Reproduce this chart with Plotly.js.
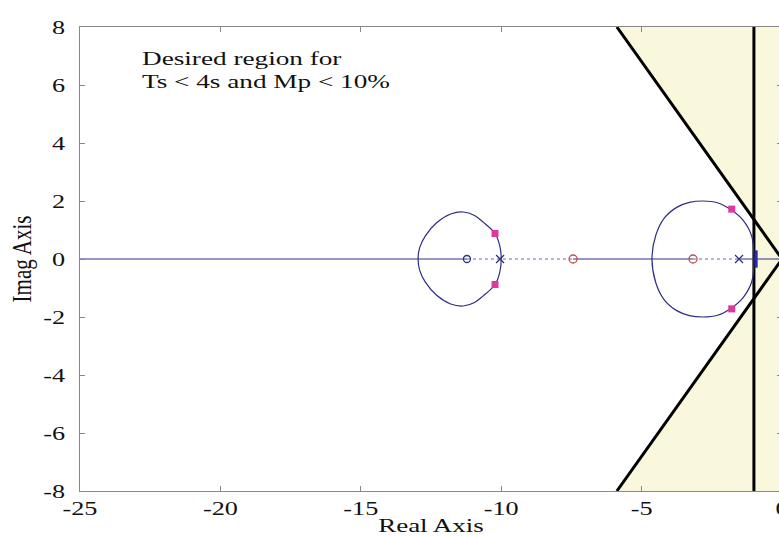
<!DOCTYPE html>
<html>
<head>
<meta charset="utf-8">
<script src="https://cdn.plot.ly/plotly-3.0.1.min.js"></script>
<style>
  html, body { margin: 0; padding: 0; overflow: hidden; background: #fff; }
  #chart { width: 800px; height: 536px; }
</style>
</head>
<body>
<div id="chart"></div>
<script>
// ---- data ----
const openLoopZerosBlue = [-11.22];
const openLoopZerosRed = [-7.44, -3.17];
const openLoopPoles = [-10.04, -1.53];

const loop1Re = [-10.0, -10.05, -10.22, -10.65, -10.95, -11.35, -11.8, -12.3, -12.7, -12.9, -12.96, -12.9, -12.7, -12.3, -11.8, -11.35, -10.95, -10.65, -10.22, -10.05, -10.0];
const loop1Im = [0, 0.45, 0.88, 1.28, 1.50, 1.62, 1.55, 1.25, 0.80, 0.40, 0, -0.40, -0.80, -1.25, -1.55, -1.62, -1.50, -1.28, -0.88, -0.45, 0];

const loop2Re = [-1.0, -1.07, -1.39, -1.85, -2.3, -2.81, -3.3, -3.75, -4.2, -4.5, -4.63, -4.5, -4.2, -3.75, -3.3, -2.81, -2.3, -1.85, -1.39, -1.07, -1.0];
const loop2Im = [0, 0.76, 1.34, 1.72, 1.94, 2.0, 1.95, 1.78, 1.40, 0.80, 0, -0.80, -1.40, -1.78, -1.95, -2.0, -1.94, -1.72, -1.34, -0.76, 0];

const closedLoopRe = [-10.22, -10.22, -1.79, -1.79];
const closedLoopIm = [0.88, -0.88, 1.72, -1.72];

const solidAxisSegments = [[-25, -11.22], [-7.44, -3.17], [-1.53, 0]];
const dottedAxisSegments = [[-11.22, -7.44], [-3.17, -1.53]];
const nearAxisBranchRe = [-0.92, -0.92];
const nearAxisBranchIm = [-0.3, 0.3];

const tsLimitReal = -1;              // Ts < 4s boundary
const coneEdgeRe = -5.88;            // damping boundary reaches Im = ±8 here
const imagLimit = 8;

const xTickVals = [-25, -20, -15, -10, -5, 0];
const xTickText = ['-25', '-20', '-15', '-10', '-5', '0'];
const yTickVals = [-8, -6, -4, -2, 0, 2, 4, 6, 8];
const yTickText = ['-8', '-6', '-4', '-2', '0', '2', '4', '6', '8'];

const noteText = 'Desired region for<br>Ts &lt; 4s and Mp &lt; 10%';

// ---- build traces ----
function segs(list) {
  const xs = [], ys = [];
  list.forEach(s => { xs.push(s[0], s[1], null); ys.push(0, 0, null); });
  return {x: xs, y: ys};
}
const coneAtTs = imagLimit * tsLimitReal / coneEdgeRe;
const xRight = xTickVals[xTickVals.length - 1];

const navy = '#2e2e84';
const traces = [];

traces.push({
  x: [coneEdgeRe, tsLimitReal, tsLimitReal, coneEdgeRe, xRight, xRight, coneEdgeRe],
  y: [imagLimit, coneAtTs, -coneAtTs, -imagLimit, -imagLimit, imagLimit, imagLimit],
  mode: 'lines', fill: 'toself', fillcolor: '#f9f7dc',
  line: {width: 0, color: 'rgba(0,0,0,0)'}, hoverinfo: 'skip', showlegend: false
});
traces.push({
  x: [coneEdgeRe, xRight, coneEdgeRe], y: [imagLimit, 0, -imagLimit],
  mode: 'lines', line: {color: '#000', width: 3}, showlegend: false
});
traces.push({
  x: [tsLimitReal, tsLimitReal], y: [-imagLimit, imagLimit],
  mode: 'lines', line: {color: '#000', width: 3}, showlegend: false
});
const sa = segs(solidAxisSegments);
traces.push({x: sa.x, y: sa.y, mode: 'lines', line: {color: navy, width: 1}, showlegend: false});
const da = segs(dottedAxisSegments);
traces.push({x: da.x, y: da.y, mode: 'lines', line: {color: '#6a6aa6', width: 1, dash: 'dot'}, showlegend: false});
traces.push({x: loop1Re, y: loop1Im, mode: 'lines', line: {color: navy, width: 1.2, shape: 'spline', smoothing: 1}, showlegend: false});
traces.push({x: loop2Re, y: loop2Im, mode: 'lines', line: {color: navy, width: 1.2, shape: 'spline', smoothing: 1}, showlegend: false});
traces.push({x: nearAxisBranchRe, y: nearAxisBranchIm, mode: 'lines', line: {color: '#2a2ab0', width: 3}, showlegend: false});
traces.push({x: openLoopZerosBlue, y: openLoopZerosBlue.map(() => 0), mode: 'markers',
  marker: {symbol: 'circle-open', size: 7, color: navy, line: {width: 1.3, color: navy}}, showlegend: false});
traces.push({x: openLoopZerosRed, y: openLoopZerosRed.map(() => 0), mode: 'markers',
  marker: {symbol: 'circle-open', size: 8, color: '#c0504d', line: {width: 1.3, color: '#c0504d'}}, showlegend: false});
traces.push({x: openLoopPoles, y: openLoopPoles.map(() => 0), mode: 'markers',
  marker: {symbol: 'x-thin-open', size: 8, color: navy, line: {width: 1.2, color: navy}}, showlegend: false});
traces.push({x: closedLoopRe, y: closedLoopIm, mode: 'markers',
  marker: {symbol: 'square', size: 7, color: '#e0389c'}, showlegend: false});

const fontSerif = {family: '"Liberation Serif", "DejaVu Serif", serif', size: 19, color: '#111'};
const yTitleFont = {family: '"Liberation Serif", "DejaVu Serif", serif', size: 21, color: '#111'};
const noteFont = {family: '"Liberation Serif", "DejaVu Serif", serif', size: 18, color: '#111'};

const layout = {
  width: 800, height: 536,
  margin: {l: 80, r: 18, t: 27, b: 45},
  paper_bgcolor: '#fff', plot_bgcolor: '#fff',
  font: fontSerif,
  showlegend: false,
  xaxis: {
    range: [-25, 0], tickvals: xTickVals, ticktext: xTickText,
    ticks: 'inside', ticklen: 5, tickcolor: '#888', showline: true, linecolor: '#888', linewidth: 1,
    mirror: 'ticks', showgrid: false, zeroline: false, ticklabelstandoff: 0,
    tickfont: fontSerif,
    title: {text: 'Real Axis', font: fontSerif, standoff: 0}
  },
  yaxis: {
    range: [-8, 8], tickvals: yTickVals, ticktext: yTickText,
    ticks: 'inside', ticklen: 5, tickcolor: '#888', showline: true, linecolor: '#888', linewidth: 1,
    mirror: 'ticks', showgrid: false, zeroline: false, ticklabelstandoff: 10,
    tickfont: fontSerif,
    title: {text: 'Imag Axis', font: yTitleFont, standoff: 14}
  },
  annotations: [{
    x: -22.86, y: 7.32, xref: 'x', yref: 'y', xanchor: 'left', yanchor: 'top',
    text: noteText, showarrow: false, align: 'left', font: noteFont
  }]
};

// the reference's text is drawn horizontally wide; widen glyphs about an anchor
function stretch(el, s, anchor) {
  const bb = el.getBBox();
  const ax = anchor === 'left' ? bb.x : anchor === 'right' ? bb.x + bb.width : bb.x + bb.width / 2;
  const prev = el.getAttribute('transform') || '';
  el.setAttribute('transform', prev + ' translate(' + ax + ',0) scale(' + s + ',1) translate(' + (-ax) + ',0)');
}
function stretchRotated(el, s) {
  const bb = el.getBBox();
  const cy = bb.y + bb.height / 2;
  const prev = el.getAttribute('transform') || '';
  el.setAttribute('transform', prev + ' translate(0,' + cy + ') scale(1,' + s + ') translate(0,' + (-cy) + ')');
}

Plotly.newPlot('chart', traces, layout, {displayModeBar: false, staticPlot: true}).then(gd => {
  gd.querySelectorAll('.annotation-text').forEach(t => stretch(t, 248 / t.getBBox().width, 'left'));
  gd.querySelectorAll('.xtick text').forEach(t => stretch(t, 1.38, 'center'));
  gd.querySelectorAll('.ytick text').forEach(t => stretch(t, 1.38, 'right'));
  gd.querySelectorAll('.xtitle').forEach(t => stretch(t, 1.42, 'center'));
  gd.querySelectorAll('.ytitle').forEach(t => stretchRotated(t, 1.3));
});
</script>
</body>
</html>
